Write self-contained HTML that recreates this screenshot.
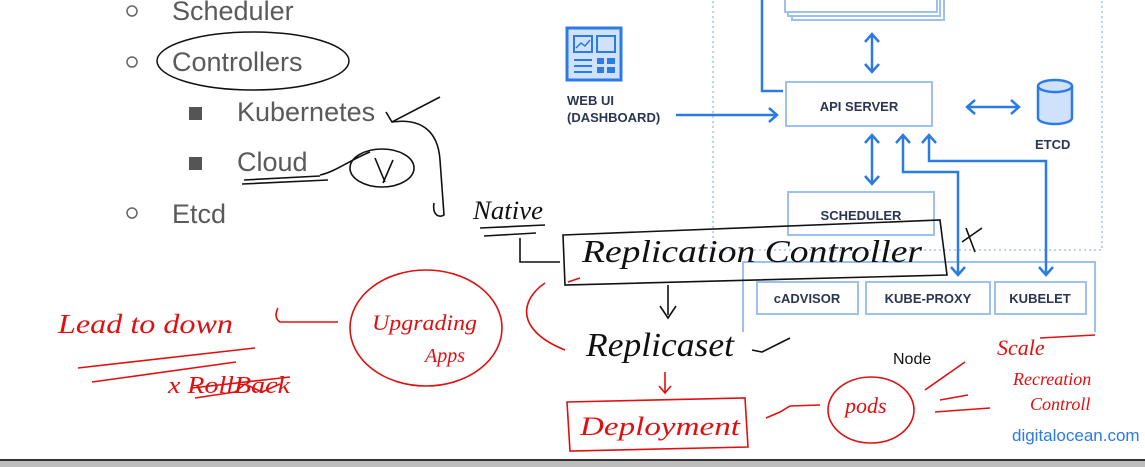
<!DOCTYPE html>
<html><head><meta charset="utf-8"><style>
html,body{margin:0;padding:0;background:#fff;}
svg{display:block}
.b{font-family:"Liberation Sans",sans-serif;fill:#5a5a5a;font-size:27px}
.k{font-family:"Liberation Sans",sans-serif;fill:#2b3553;font-size:13px;font-weight:bold}
.h{font-family:"Liberation Serif",serif;font-style:italic}
</style></head><body>
<svg width="1145" height="467" viewBox="0 0 1145 467" xmlns="http://www.w3.org/2000/svg">
<!-- left bullets -->
<circle cx="132" cy="11" r="5" fill="none" stroke="#666" stroke-width="1.5"/>
<text class="b" x="172" y="20">Scheduler</text>
<circle cx="132" cy="62" r="5" fill="none" stroke="#666" stroke-width="1.5"/>
<text class="b" x="172" y="71">Controllers</text>
<ellipse cx="253" cy="61" rx="96" ry="29" fill="none" stroke="#111" stroke-width="1.5"/>
<rect x="189" y="107" width="13" height="13" fill="#555"/>
<text class="b" x="237" y="121">Kubernetes</text>
<rect x="189" y="157" width="13" height="13" fill="#555"/>
<text class="b" x="237" y="171">Cloud</text>
<circle cx="132" cy="213" r="5" fill="none" stroke="#666" stroke-width="1.5"/>
<text class="b" x="172" y="223">Etcd</text>

<!-- k8s diagram -->
<rect x="713" y="-5" width="389" height="255" fill="none" stroke="#9bb9e0" stroke-width="1.3" stroke-dasharray="2,3"/>
<g fill="#fff" stroke="#9dc0f2" stroke-width="2">
<rect x="792" y="-10" width="152" height="30"/>
<rect x="788" y="-10" width="152" height="26"/>
<rect x="785" y="-10" width="152" height="22"/>
<rect x="786" y="82" width="146" height="44"/>
<rect x="788" y="192" width="146" height="43"/>
<rect x="757" y="282" width="101" height="32"/>
<rect x="866" y="282" width="124" height="32"/>
<rect x="995" y="282" width="91" height="32"/>
</g>
<path d="M743 332 V262 H1095 V332" fill="none" stroke="#9dc0f2" stroke-width="2"/>
<text class="k" x="859" y="111" text-anchor="middle">API SERVER</text>
<text class="k" x="861" y="220" text-anchor="middle">SCHEDULER</text>
<text class="k" x="807" y="303" text-anchor="middle">cADVISOR</text>
<text class="k" x="928" y="303" text-anchor="middle">KUBE-PROXY</text>
<text class="k" x="1040" y="303" text-anchor="middle">KUBELET</text>
<text class="k" x="567" y="105">WEB UI</text>
<text class="k" x="567" y="122">(DASHBOARD)</text>
<text class="k" x="1035" y="149">ETCD</text>
<!-- web ui icon -->
<rect x="567" y="28" width="54" height="52" fill="#cfe1fb" stroke="#2b7be5" stroke-width="3"/>
<rect x="574" y="36" width="18" height="16" fill="none" stroke="#2b7be5" stroke-width="2"/>
<rect x="597" y="36" width="18" height="16" fill="none" stroke="#2b7be5" stroke-width="2"/>
<path d="M576 48 L581 43 L585 46 L590 40" stroke="#2b7be5" stroke-width="1.5" fill="none"/>
<path d="M574 60 H592 M574 66 H592 M574 72 H592" stroke="#2b7be5" stroke-width="2"/>
<rect x="597" y="58" width="7" height="6" fill="#2b7be5"/><rect x="607" y="58" width="8" height="6" fill="#2b7be5"/>
<rect x="597" y="67" width="7" height="6" fill="#2b7be5"/><rect x="607" y="67" width="8" height="6" fill="#2b7be5"/>
<!-- etcd cylinder -->
<path d="M1038 86 V118 A17 6 0 0 0 1072 118 V86" fill="#cfe1fb" stroke="#2b7be5" stroke-width="2.5"/>
<ellipse cx="1055" cy="86" rx="17" ry="6" fill="#cfe1fb" stroke="#2b7be5" stroke-width="2.5"/>
<!-- blue arrows -->
<g fill="none" stroke="#2b7be5" stroke-width="2.5">
<path d="M762 0 V91 H783"/>
<path d="M676 115 H776 M769 108 L777 115 L769 122"/>
<path d="M872 35 V71 M865 42 L872 34 L879 42 M865 64 L872 72 L879 64"/>
<path d="M968 107 H1018 M975 100 L967 107 L975 114 M1011 100 L1019 107 L1011 114"/>
<path d="M872 136 V183 M865 143 L872 135 L879 143 M865 176 L872 184 L879 176"/>
<path d="M903 136 V172 H958 V274 M896 143 L903 135 L910 143 M951 267 L958 275 L965 267"/>
<path d="M929 136 V161 H1046 V274 M922 143 L929 135 L936 143 M1039 267 L1046 275 L1053 267"/>
</g>

<!-- black handwriting -->
<g fill="none" stroke="#111" stroke-width="1.6">
<path d="M386 112 L392 122 L440 97"/>
<path d="M392 122 C420 118 438 130 440 160 L444 215 C440 218 432 216 434 203"/>
<path d="M244 180 L320 176 M242 184 L328 180 M320 175 C335 172 350 160 370 152"/>
<ellipse cx="382" cy="168" rx="32" ry="19"/>
<path d="M375 158 L385 182 M393 160 L383 183"/>
<path d="M480 228 L545 225 M484 236 L536 233"/>
<path d="M520 238 L520 262 L560 262"/>
<path d="M563 235 L940 220 L947 275 L565 285 Z"/>
<path d="M962 242 L982 228 M966 228 L975 252"/>
<path d="M668 285 L668 315 M660 306 L668 318 L676 306"/>
<path d="M752 350 L762 352 L790 338"/>
</g>
<text class="h" x="473" y="219" font-size="26" fill="#111" textLength="70" lengthAdjust="spacingAndGlyphs">Native</text>
<text class="h" x="582" y="262" font-size="32" fill="#111" textLength="340" lengthAdjust="spacingAndGlyphs">Replication Controller</text>
<text class="h" x="586" y="356" font-size="34" fill="#111" textLength="148" lengthAdjust="spacingAndGlyphs">Replicaset</text>

<!-- red handwriting -->
<g fill="none" stroke="#e01010" stroke-width="1.6">
<ellipse cx="426" cy="328" rx="76" ry="58"/>
<path d="M545 283 C520 300 515 330 565 350"/>
<path d="M338 322 L280 322 C274 318 276 312 278 308"/>
<path d="M78 368 L255 348 M92 382 L236 362"/>
<path d="M192 388 L290 377 M195 398 L235 392 L245 384 L262 392 L280 384"/>
<path d="M568 282 L580 278"/>
<path d="M665 372 V392 M659 386 L665 393 L671 386"/>
<path d="M567 402 L745 398 L748 447 L570 451 Z"/>
<path d="M766 418 L780 412 L790 406 L820 405"/>
<ellipse cx="871" cy="410" rx="43" ry="33"/>
<path d="M925 390 L965 362 M940 400 L968 395 M935 412 L990 408"/>
<path d="M1040 338 L1095 335"/>
</g>
<g class="h" fill="#e01010">
<text x="58" y="333" font-size="27" textLength="175" lengthAdjust="spacingAndGlyphs">Lead to down</text>
<text x="168" y="393" font-size="24" textLength="122" lengthAdjust="spacingAndGlyphs">x RollBack</text>
<text x="372" y="330" font-size="22" textLength="105" lengthAdjust="spacingAndGlyphs">Upgrading</text>
<text x="425" y="362" font-size="20">Apps</text>
<text x="580" y="435" font-size="26" textLength="160" lengthAdjust="spacingAndGlyphs">Deployment</text>
<text x="845" y="413" font-size="22">pods</text>
<text x="997" y="355" font-size="22">Scale</text>
<text x="1013" y="385" font-size="18">Recreation</text>
<text x="1030" y="410" font-size="18">Controll</text>
</g>
<text x="893" y="364" font-family="Liberation Sans,sans-serif" font-size="16" fill="#111">Node</text>
<text x="1012" y="441" font-family="Liberation Sans,sans-serif" font-size="17" fill="#2b7be5">digitalocean.com</text>
<!-- bottom bar -->
<rect x="0" y="459" width="1145" height="8" fill="#bdbdbd"/>
<rect x="0" y="459" width="1145" height="2" fill="#333"/>
</svg>
</body></html>
